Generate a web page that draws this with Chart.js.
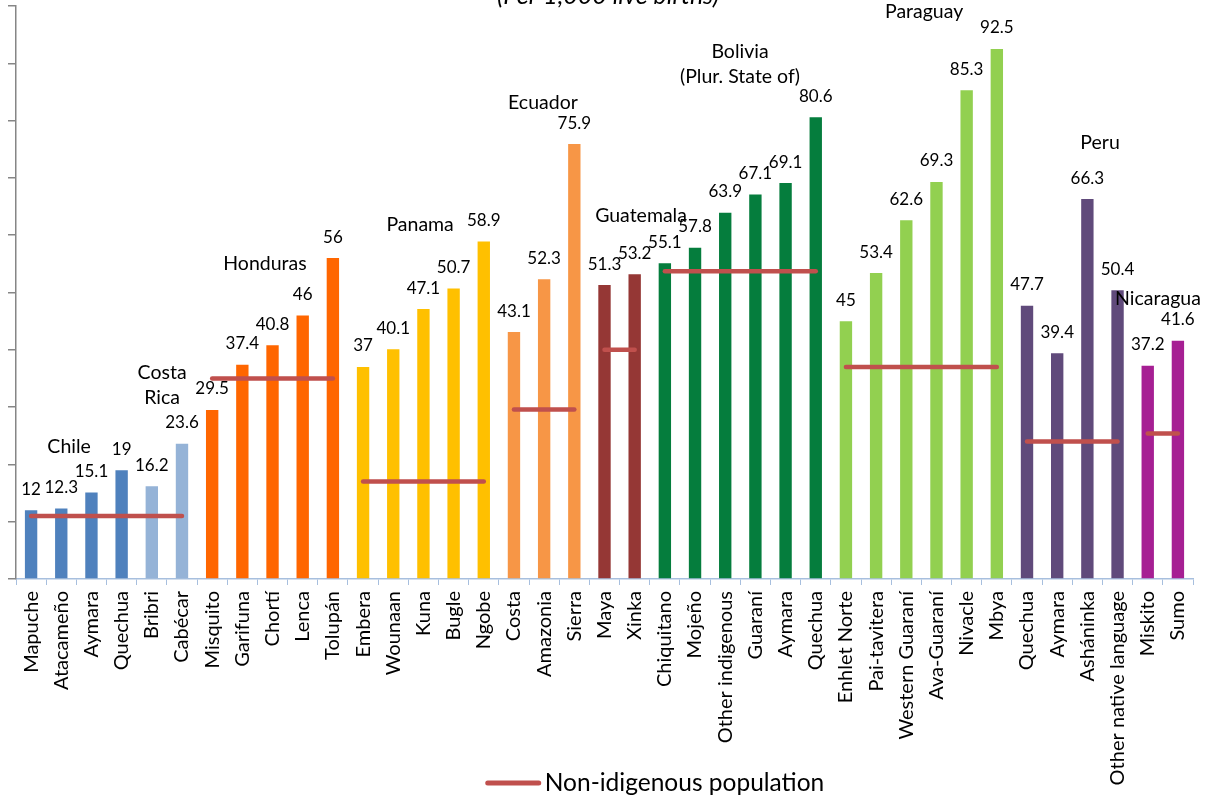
<!DOCTYPE html>
<html>
<head>
<meta charset="utf-8">
<script src="https://cdn.jsdelivr.net/npm/chart.js@4/dist/chart.umd.min.js"></script>
<style>
  html, body { margin: 0; padding: 0; background: #fff; }
  #wrap { width: 1210px; height: 799px; }
</style>
</head>
<body>
<div id="wrap"><canvas id="c" width="1210" height="799"></canvas></div>
<script>
// Indigenous groups, grouped by country
const categories = ['Mapuche','Atacameño','Aymara','Quechua','Bribri','Cabécar','Misquito','Garifuna','Chortí','Lenca','Tolupán','Embera','Wounaan','Kuna','Bugle','Ngobe','Costa','Amazonia','Sierra','Maya','Xinka','Chiquitano','Mojeño','Other indigenous','Guaraní','Aymara','Quechua','Enhlet Norte','Pai-tavitera','Western Guaraní','Ava-Guaraní','Nivacle','Mbya','Quechua','Aymara','Asháninka','Other native language','Miskito','Sumo'];

// Infant mortality per 1,000 live births, indigenous population
const indigenousRate = [12,12.3,15.1,19,16.2,23.6,29.5,37.4,40.8,46,56,37,40.1,47.1,50.7,58.9,43.1,52.3,75.9,51.3,53.2,55.1,57.8,63.9,67.1,69.1,80.6,45,53.4,62.6,69.3,85.3,92.5,47.7,39.4,66.3,50.4,37.2,41.6];

// Country that each group belongs to (index into countryNames)
const countryOfCategory = [0,0,0,0,1,1,2,2,2,2,2,3,3,3,3,3,4,4,4,5,5,6,6,6,6,6,6,7,7,7,7,7,7,8,8,8,8,9,9];

const countryNames = [['Chile'],['Costa','Rica'],['Honduras'],['Panama'],['Ecuador'],['Guatemala'],['Bolivia','(Plur. State of)'],['Paraguay'],['Peru'],['Nicaragua']];

// Infant mortality of the non-indigenous population, per country
const nonIndigenousRate = [11,11,35,17,29.6,40,53.7,37,24,25.4];

const countryColors = ['#4F81BD','#95B3D7','#FF6600','#FFC000','#F79646','#953735','#057D3D','#92D050','#604A7B','#A61F93'];

// Where each country caption sits: category position, rate level
const captionAnchor = [[1.26,23],[4.34,33.9],[7.75,55.1],[12.89,61.8],[16.96,83.2],[20.21,63.4],[23.49,89.8],[29.59,99],[35.42,76.1],[37.34,48.9]];

const LINE_COLOR = '#C0504D';
const FONT = 'Lato, "Open Sans", sans-serif';

const barColors = countryOfCategory.map(c => countryColors[c]);
const nonIndigenousLine = countryOfCategory.map(c => nonIndigenousRate[c]);

const annotate = {
  id: 'annotate',
  afterDraw(chart) {
    const { ctx, scales: { x, y } } = chart;
    ctx.save();
    ctx.fillStyle = '#000';
    ctx.textAlign = 'center';
    ctx.textBaseline = 'middle';

    // value above each bar
    ctx.font = '17px ' + FONT;
    chart.getDatasetMeta(1).data.forEach((bar, i) => {
      ctx.fillText(String(indigenousRate[i]), bar.x, bar.y - 21);
    });

    // country captions
    ctx.font = '19.5px ' + FONT;
    countryNames.forEach((lines, c) => {
      const cx = x.getPixelForValue(captionAnchor[c][0]);
      const cy = y.getPixelForValue(captionAnchor[c][1]);
      const lh = 25;
      lines.forEach((t, k) => {
        ctx.fillText(t, cx, cy + (k - (lines.length - 1) / 2) * lh);
      });
    });

    // chart subtitle along the top edge
    ctx.font = 'italic 25px ' + FONT;
    ctx.textBaseline = 'alphabetic';
    ctx.fillText('(Per 1,000 live births)', 608, 4);

    // legend
    ctx.font = '24.5px ' + FONT;
    const label = 'Non-idigenous population';
    const tw = ctx.measureText(label).width;
    const sw = 55, gap = 4;
    const total = sw + gap + tw;
    const lx = 655 - total / 2;
    const ly = 783;
    ctx.strokeStyle = LINE_COLOR;
    ctx.lineWidth = 5;
    ctx.lineCap = 'round';
    ctx.beginPath();
    ctx.moveTo(lx + 2, ly);
    ctx.lineTo(lx + sw - 2, ly);
    ctx.stroke();
    ctx.textAlign = 'left';
    ctx.textBaseline = 'middle';
    ctx.fillText(label, lx + sw + gap, ly);
    ctx.restore();
  }
};

new Chart(document.getElementById('c'), {
  data: {
    labels: categories,
    datasets: [
      {
        type: 'line',
        label: 'Non-idigenous population',
        data: nonIndigenousLine,
        borderColor: LINE_COLOR,
        borderWidth: 4.5,
        borderCapStyle: 'round',
        pointRadius: 0,
        pointHoverRadius: 0,
        fill: false,
        order: 1,
        segment: {
          borderColor: s => s.p0.parsed.y === s.p1.parsed.y ? LINE_COLOR : 'rgba(0,0,0,0)'
        }
      },
      {
        type: 'bar',
        label: 'Indigenous population',
        data: indigenousRate,
        backgroundColor: barColors,
        borderWidth: 0,
        categoryPercentage: 1,
        barPercentage: 0.41,
        order: 2
      }
    ]
  },
  options: {
    responsive: false,
    animation: false,
    devicePixelRatio: 1,
    layout: { padding: { left: 8, right: 17, top: 6, bottom: 0 } },
    plugins: {
      legend: { display: false },
      tooltip: { enabled: false },
      title: { display: false }
    },
    scales: {
      x: {
        offset: true,
        afterFit: s => { s.height = 220; },
        grid: {
          offset: true,
          drawOnChartArea: false,
          drawTicks: true,
          tickLength: 6,
          color: '#A7BFDE',
          lineWidth: 1
        },
        border: { display: true, color: '#A7BFDE', width: 1.5 },
        ticks: {
          autoSkip: false,
          minRotation: 90,
          maxRotation: 90,
          padding: 6,
          color: '#000',
          font: { family: FONT, size: 20 }
        }
      },
      y: {
        min: 0,
        max: 100,
        afterFit: s => { s.width = 8; },
        ticks: { stepSize: 10, display: false },
        grid: {
          drawOnChartArea: false,
          drawTicks: true,
          tickLength: 8,
          color: '#868686',
          lineWidth: 1.5
        },
        border: { display: true, color: '#868686', width: 1.5 }
      }
    }
  },
  plugins: [annotate]
});
</script>
</body>
</html>
